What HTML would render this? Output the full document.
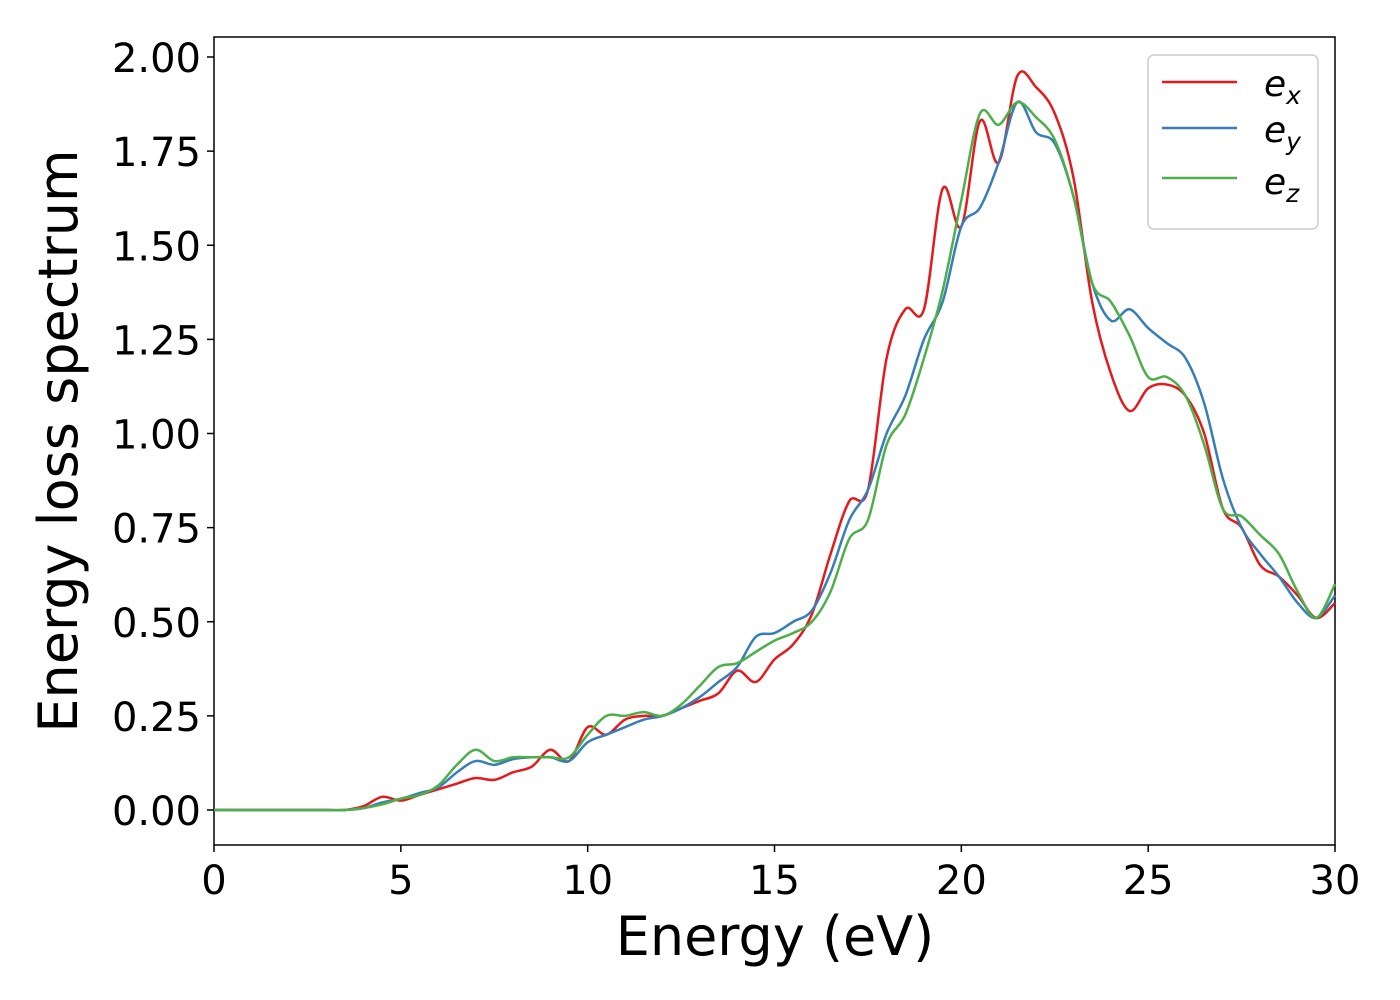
<!DOCTYPE html>
<html><head><meta charset="utf-8"><style>
body{margin:0;background:#fff;}
svg{display:block;font-family:"DejaVu Sans","Liberation Sans",sans-serif;}
</style></head><body>
<svg id="chart" width="1400" height="1000">
<rect x="214" y="37" width="1121" height="808" fill="#fff" stroke="#000" stroke-width="1.5"/>
<g id="ticks"></g>
<g id="lines"></g>
<text x="775" y="955" font-size="54" text-anchor="middle">Energy (eV)</text>
<text transform="translate(77,441) rotate(-90)" font-size="54" text-anchor="middle">Energy loss spectrum</text>
<g>
<rect x="1148" y="55" width="170" height="174" rx="6" fill="#fff" stroke="#ccc" stroke-width="1.5"/>
<g><line x1="1162" y1="82" x2="1237" y2="82" stroke="#e41a1c" stroke-width="2.5"/><text x="1264" y="96" font-size="36" font-style="italic">e<tspan font-size="25" dy="8">x</tspan></text></g>
<g><line x1="1162" y1="128" x2="1237" y2="128" stroke="#377eb8" stroke-width="2.5"/><text x="1264" y="142" font-size="36" font-style="italic">e<tspan font-size="25" dy="8">y</tspan></text></g>
<g><line x1="1162" y1="178" x2="1237" y2="178" stroke="#4daf4a" stroke-width="2.5"/><text x="1264" y="194" font-size="36" font-style="italic">e<tspan font-size="25" dy="8">z</tspan></text></g>
</g>
</svg>
<script>
const energies=[];for(let i=0;i<=60;i++)energies.push(i*0.5);
const ex=[0,0,0,0,0,0,0,0,0.01,0.035,0.025,0.04,0.055,0.07,0.085,0.08,0.1,0.115,0.16,0.13,0.22,0.2,0.24,0.25,0.25,0.27,0.29,0.31,0.37,0.34,0.4,0.44,0.52,0.68,0.82,0.85,1.2,1.33,1.33,1.65,1.55,1.83,1.72,1.95,1.92,1.85,1.68,1.35,1.16,1.06,1.12,1.13,1.1,1.0,0.8,0.75,0.65,0.62,0.57,0.51,0.55];
const ey=[0,0,0,0,0,0,0,0,0.005,0.02,0.03,0.045,0.06,0.1,0.13,0.12,0.135,0.14,0.14,0.13,0.18,0.2,0.22,0.24,0.25,0.27,0.3,0.34,0.38,0.46,0.47,0.5,0.53,0.63,0.77,0.85,1.0,1.1,1.25,1.35,1.55,1.6,1.72,1.88,1.8,1.77,1.63,1.4,1.3,1.33,1.28,1.24,1.2,1.08,0.88,0.75,0.68,0.62,0.55,0.51,0.57];
const ez=[0,0,0,0,0,0,0,0,0.005,0.015,0.03,0.04,0.065,0.12,0.16,0.13,0.14,0.14,0.14,0.14,0.2,0.25,0.25,0.26,0.25,0.28,0.33,0.38,0.39,0.42,0.45,0.47,0.5,0.58,0.72,0.77,0.97,1.05,1.2,1.38,1.62,1.85,1.82,1.88,1.84,1.78,1.63,1.4,1.35,1.26,1.15,1.15,1.1,0.97,0.8,0.78,0.73,0.68,0.58,0.51,0.6];
const xTicks=[0,5,10,15,20,25,30];
const yTicks=[0,0.25,0.5,0.75,1.0,1.25,1.5,1.75,2.0];
const X=e=>214+e*(1121/30);
const Y=v=>810-v*376.5;
const NS='http://www.w3.org/2000/svg';
const tg=document.getElementById('ticks');
xTicks.forEach(t=>{
 const l=document.createElementNS(NS,'line');
 
 
 l.setAttribute('x1',X(t));l.setAttribute('x2',X(t));l.setAttribute('y1',845);l.setAttribute('y2',852);l.setAttribute('stroke','#000');l.setAttribute('stroke-width','1.5');tg.appendChild(l);
 const s=document.createElementNS(NS,'text');
 
 
 s.setAttribute('x',X(t));s.setAttribute('y',894);s.setAttribute('font-size','40');s.setAttribute('text-anchor','middle');s.textContent=t;tg.appendChild(s);
});
yTicks.forEach(t=>{
 const l=document.createElementNS(NS,'line');
 
 
 l.setAttribute('x1',207);l.setAttribute('x2',214);l.setAttribute('y1',Y(t));l.setAttribute('y2',Y(t));l.setAttribute('stroke','#000');l.setAttribute('stroke-width','1.5');tg.appendChild(l);
 const s=document.createElementNS(NS,'text');
 
 
 s.setAttribute('x',201);s.setAttribute('y',Y(t)+15);s.setAttribute('font-size','40');s.setAttribute('text-anchor','end');s.textContent=t.toFixed(2);tg.appendChild(s);
});
function pathFor(vals){
 const p=vals.map((v,i)=>[X(energies[i]),Y(v)]);
 let d='M'+p[0][0]+','+p[0][1];
 for(let i=0;i<p.length-1;i++){
  const p0=p[Math.max(i-1,0)],p1=p[i],p2=p[i+1],p3=p[Math.min(i+2,p.length-1)];
  const c1x=p1[0]+(p2[0]-p0[0])/6,c1y=p1[1]+(p2[1]-p0[1])/6;
  const c2x=p2[0]-(p3[0]-p1[0])/6,c2y=p2[1]-(p3[1]-p1[1])/6;
  d+=' C'+c1x+','+c1y+' '+c2x+','+c2y+' '+p2[0]+','+p2[1];
 }
 return d;
}
const lg=document.getElementById('lines');
[[ex,'#e41a1c','series-ex'],[ey,'#377eb8','series-ey'],[ez,'#4daf4a','series-ez']].forEach(([vals,c,n])=>{
 const pa=document.createElementNS(NS,'path');
 
 
 pa.setAttribute('d',pathFor(vals));pa.setAttribute('fill','none');pa.setAttribute('stroke',c);pa.setAttribute('stroke-width','2.5');
 lg.appendChild(pa);
});
</script>
</body></html>
